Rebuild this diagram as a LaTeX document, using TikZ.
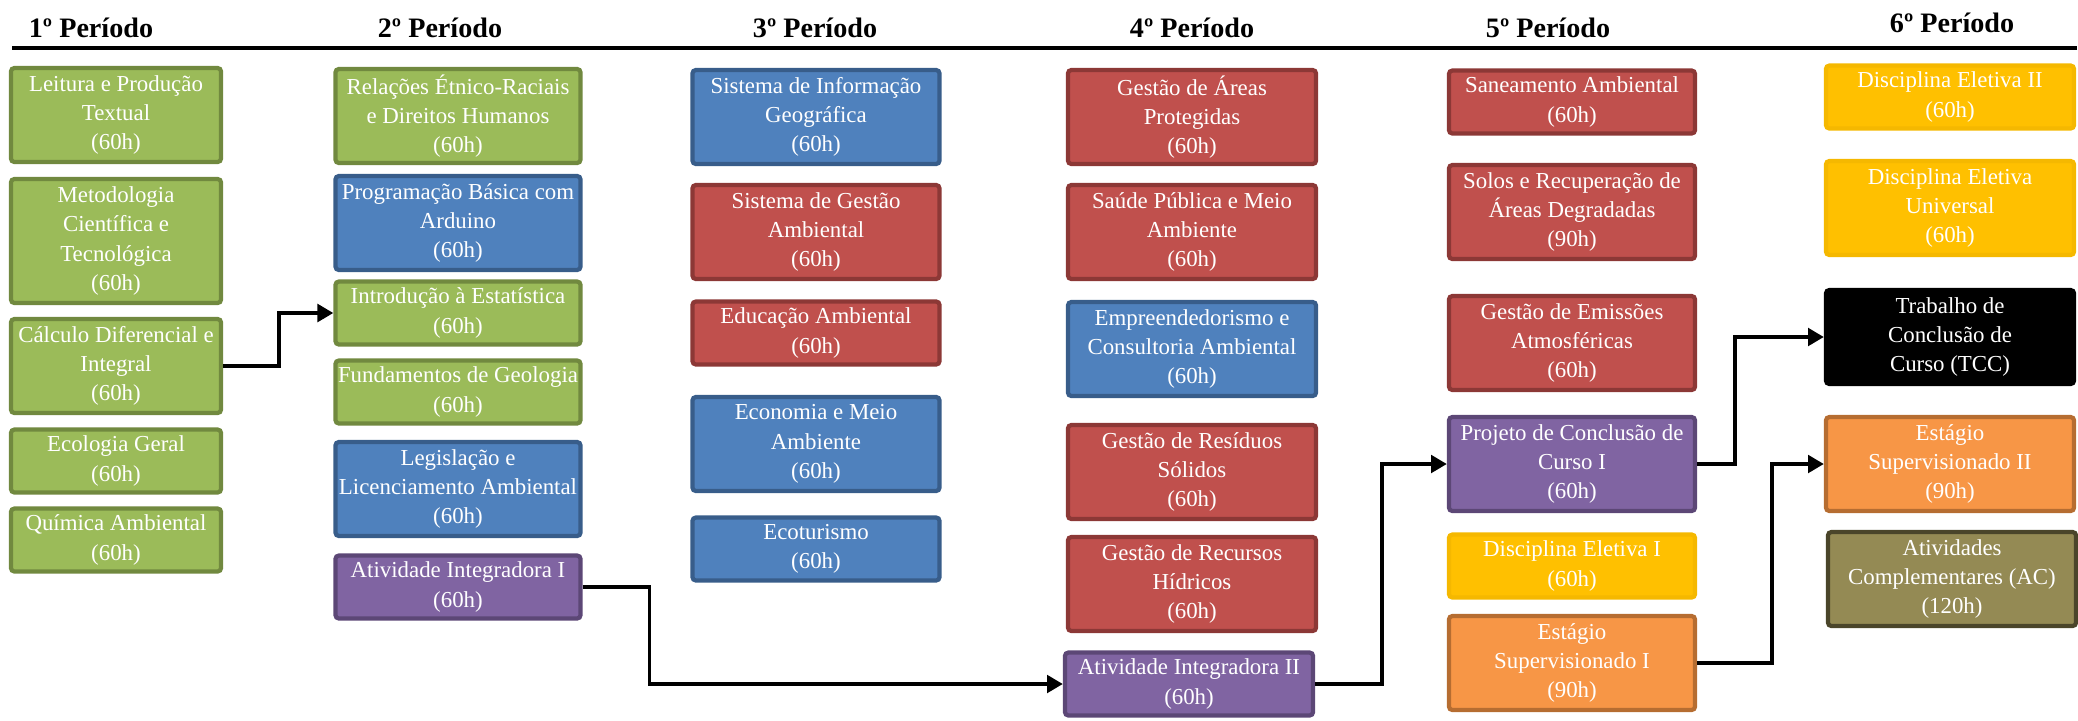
\documentclass[tikz,border=0pt]{standalone}
\usepackage{fontspec}
\setmainfont{Liberation Serif}
\usetikzlibrary{arrows.meta}
\definecolor{verdef}{HTML}{9BBB59}
\definecolor{verdeb}{HTML}{71893F}
\definecolor{azulf}{HTML}{4F81BD}
\definecolor{azulb}{HTML}{385D8A}
\definecolor{vermf}{HTML}{C0504D}
\definecolor{vermb}{HTML}{8C3836}
\definecolor{roxof}{HTML}{8064A2}
\definecolor{roxob}{HTML}{5C4776}
\definecolor{amaf}{HTML}{FFC000}
\definecolor{amab}{HTML}{F5B800}
\definecolor{laranf}{HTML}{F79646}
\definecolor{laranb}{HTML}{B66D31}
\definecolor{olivf}{HTML}{948A54}
\definecolor{olivb}{HTML}{4A452A}
\begin{document}
\begin{tikzpicture}[x=0.01cm,y=-0.01cm,>={Triangle[length=4.5pt,width=5pt]},
        disc/.style={draw,line width=1.2pt,rounded corners=1pt,text=white,align=center,
          inner sep=0pt,font=\fontsize{6.5}{8.3}\selectfont},
        verde/.style={disc,fill=verdef,draw=verdeb},
        azul/.style={disc,fill=azulf,draw=azulb},
        verm/.style={disc,fill=vermf,draw=vermb},
        roxo/.style={disc,fill=roxof,draw=roxob},
        ama/.style={disc,fill=amaf,draw=amab},
        laran/.style={disc,fill=laranf,draw=laranb},
        oliv/.style={disc,fill=olivf,draw=olivb},
        preto/.style={disc,fill=black,draw=black},
        c1/.style={minimum width=2.10cm},
        c2/.style={minimum width=2.45cm},
        c3/.style={minimum width=2.47cm},
        c4/.style={minimum width=2.48cm},
        c5/.style={minimum width=2.46cm},
        c6/.style={minimum width=2.48cm},
        h2/.style={minimum height=0.63cm},
        h3/.style={minimum height=0.94cm},
        h4/.style={minimum height=1.24cm},
        per/.style={font=\bfseries\fontsize{8}{9}\selectfont},
        conn/.style={line width=1pt,->}]
        \useasboundingbox (0,0) rectangle (2078,720);
        % cabecalho
        \node[per] (p1) at (91,28) {1º Período};
        \node[per] (p2) at (440,28) {2º Período};
        \node[per] (p3) at (815,28) {3º Período};
        \node[per] (p4) at (1192,28) {4º Período};
        \node[per] (p5) at (1548,28) {5º Período};
        \node[per] (p6) at (1952,23) {6º Período};
        \draw[line width=1.3pt] (12,48) -- (2077,48);
        % 1o periodo
        \node[verde,c1,h3] (leit) at (116,115) {Leitura e Produção\\Textual\\(60h)};
        \node[verde,c1,h4] (metod) at (116,241) {Metodologia\\Científica e\\Tecnológica\\(60h)};
        \node[verde,c1,h3] (calc) at (116,366) {Cálculo Diferencial e\\Integral\\(60h)};
        \node[verde,c1,h2] (ecol) at (116,461) {Ecologia Geral\\(60h)};
        \node[verde,c1,h2] (quim) at (116,540) {Química Ambiental\\(60h)};
        % 2o periodo
        \node[verde,c2,h3] (rel) at (458,116) {Relações Étnico-Raciais\\e Direitos Humanos\\(60h)};
        \node[azul,c2,h3] (prog) at (458,223) {Programação Básica com\\Arduino\\(60h)};
        \node[verde,c2,h2] (intro) at (458,313) {Introdução à Estatística\\(60h)};
        \node[verde,c2,h2] (fund) at (458,392) {Fundamentos de Geologia\\(60h)};
        \node[azul,c2,h3] (legis) at (458,489) {Legislação e\\Licenciamento Ambiental\\(60h)};
        \node[roxo,c2,h2] (ativ1) at (458,587) {Atividade Integradora I\\(60h)};
        % 3o periodo
        \node[azul,c3,h3] (sig) at (816,117) {Sistema de Informação\\Geográfica\\(60h)};
        \node[verm,c3,h3] (sga) at (816,232) {Sistema de Gestão\\Ambiental\\(60h)};
        \node[verm,c3,h2] (educ) at (816,333) {Educação Ambiental\\(60h)};
        \node[azul,c3,h3] (econ) at (816,444) {Economia e Meio\\Ambiente\\(60h)};
        \node[azul,c3,h2] (ecot) at (816,549) {Ecoturismo\\(60h)};
        % 4o periodo
        \node[verm,c4,h3] (areas) at (1192,117) {Gestão de Áreas\\Protegidas\\(60h)};
        \node[verm,c4,h3] (saude) at (1192,232) {Saúde Pública e Meio\\Ambiente\\(60h)};
        \node[azul,c4,h3] (empr) at (1192,349) {Empreendedorismo e\\Consultoria Ambiental\\(60h)};
        \node[verm,c4,h3] (resid) at (1192,472) {Gestão de Resíduos\\Sólidos\\(60h)};
        \node[verm,c4,h3] (hidr) at (1192,584) {Gestão de Recursos\\Hídricos\\(60h)};
        \node[roxo,c4,h2] (ativ2) at (1189,684) {Atividade Integradora II\\(60h)};
        % 5o periodo
        \node[verm,c5,h2] (sanea) at (1572,102) {Saneamento Ambiental\\(60h)};
        \node[verm,c5,h3] (solos) at (1572,212) {Solos e Recuperação de\\Áreas Degradadas\\(90h)};
        \node[verm,c5,h3] (emis) at (1572,343) {Gestão de Emissões\\Atmosféricas\\(60h)};
        \node[roxo,c5,h3] (proj) at (1572,464) {Projeto de Conclusão de\\Curso I\\(60h)};
        \node[ama,c5,h2] (elet1) at (1572,566) {Disciplina Eletiva I\\(60h)};
        \node[laran,c5,h3] (est1) at (1572,663) {Estágio\\Supervisionado I\\(90h)};
        % 6o periodo
        \node[ama,c6,h2] (elet2) at (1950,97) {Disciplina Eletiva II\\(60h)};
        \node[ama,c6,h3] (univ) at (1950,208) {Disciplina Eletiva\\Universal\\(60h)};
        \node[preto,c6,h3] (tcc) at (1950,337) {Trabalho de\\Conclusão de\\Curso (TCC)};
        \node[laran,c6,h3] (est2) at (1950,464) {Estágio\\Supervisionado II\\(90h)};
        \node[oliv,c6,h3] (ativc) at (1952,579) {Atividades\\Complementares (AC)\\(120h)};
        % conexoes
        \draw[conn] (calc.east) -- ++(56,0) |- (intro.west);
        \draw[conn] (ativ1.east) -- ++(67,0) |- (ativ2.west);
        \draw[conn] (ativ2.east) -- ++(67,0) |- (proj.west);
        \draw[conn] (proj.east) -- ++(38,0) |- (tcc.west);
        \draw[conn] (est1.east) -- ++(75,0) |- (est2.west);
    \end{tikzpicture}
\end{document}
